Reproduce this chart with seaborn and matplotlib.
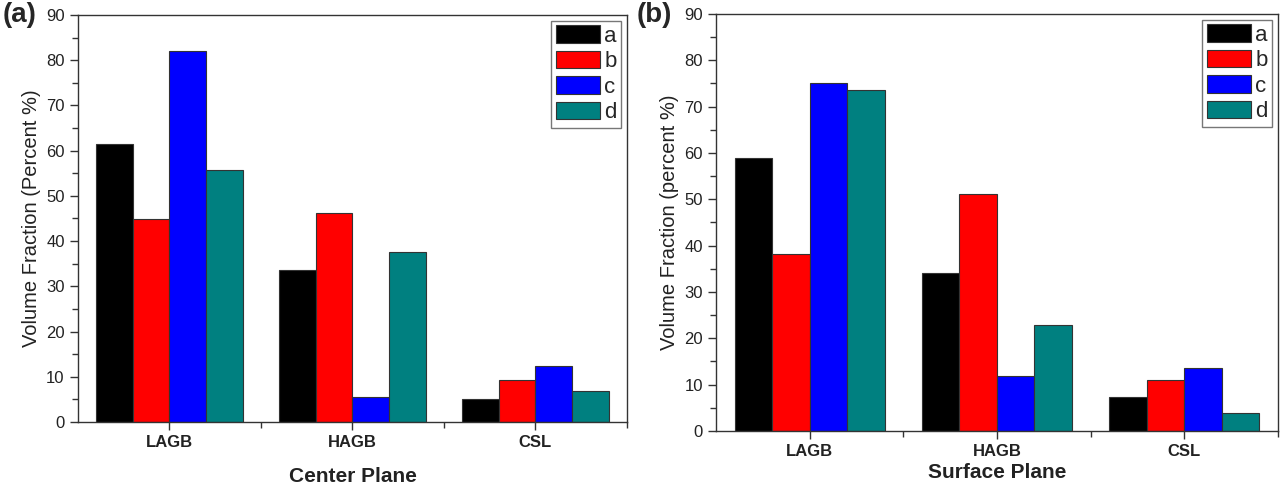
import pandas as pd
import seaborn as sns
import matplotlib.pyplot as plt
from matplotlib.ticker import MultipleLocator, FixedLocator

categories = ["LAGB", "HAGB", "CSL"]
series = ["a", "b", "c", "d"]

# values, per series (LAGB, HAGB, CSL)
center_a = [61.4, 33.6, 5.1]
center_b = [44.9, 46.2, 9.2]
center_c = [82.0, 5.5, 12.4]
center_d = [55.8, 37.7, 6.8]

surface_a = [59.0, 34.1, 7.3]
surface_b = [38.2, 51.2, 11.0]
surface_c = [75.0, 11.8, 13.5]
surface_d = [73.7, 22.9, 3.8]

colors = ["#000000", "#ff0000", "#0000ff", "#008080"]


def long_df(a, b, c, d):
    rows = []
    for s, vals in zip(series, [a, b, c, d]):
        for cat, v in zip(categories, vals):
            rows.append({"cat": cat, "series": s, "value": v})
    return pd.DataFrame(rows)


df_center = long_df(center_a, center_b, center_c, center_d)
df_surface = long_df(surface_a, surface_b, surface_c, surface_d)

sns.set_style("ticks")
plt.rcParams["font.family"] = ["Liberation Sans", "DejaVu Sans"]

fig = plt.figure(figsize=(12.84, 4.91), dpi=100)
ax1 = fig.add_axes([0.0607, 0.1405, 0.4276, 0.829])
ax2 = fig.add_axes([0.5576, 0.1222, 0.4377, 0.8493])


def draw(ax, df, ylabel, xlabel, xlabelpad):
    sns.barplot(data=df, x="cat", y="value", hue="series", palette=colors,
                saturation=1, width=0.8, edgecolor="#333333", linewidth=0.8,
                ax=ax)
    ax.set_xlim(-0.5, 2.5)
    ax.set_ylim(0, 90)
    ax.yaxis.set_major_locator(MultipleLocator(10))
    ax.yaxis.set_minor_locator(MultipleLocator(5))
    ax.xaxis.set_minor_locator(FixedLocator([0.5, 1.5, 2.5]))
    ax.tick_params(which="major", direction="out", length=6, width=1,
                   color="#333333", labelsize=12, labelcolor="#222222")
    ax.tick_params(which="minor", direction="out", length=4, width=1,
                   color="#333333")
    for lab in ax.get_xticklabels():
        lab.set_fontweight("bold")
    for sp in ax.spines.values():
        sp.set_visible(True)
        sp.set_color("#333333")
        sp.set_linewidth(1)
    ax.set_ylabel(ylabel, fontsize=14.5, color="#222222")
    ax.set_xlabel(xlabel, fontsize=15, fontweight="bold", labelpad=xlabelpad,
                  color="#222222")
    ax.legend(loc="upper right", fontsize=16, frameon=True, fancybox=False,
              edgecolor="#555555", handlelength=2.0, handleheight=0.85,
              handletextpad=0.2, labelspacing=0.18, borderpad=0.2,
              borderaxespad=0.25)


draw(ax1, df_center, "Volume Fraction (Percent %)", "Center Plane", 12)
draw(ax2, df_surface, "Volume Fraction (percent %)", "Surface Plane", 3)

fig.text(0.002, 0.995, "(a)", fontsize=20, fontweight="bold", va="top")
fig.text(0.496, 0.995, "(b)", fontsize=20, fontweight="bold", va="top")

plt.savefig("out.png", dpi=100)
